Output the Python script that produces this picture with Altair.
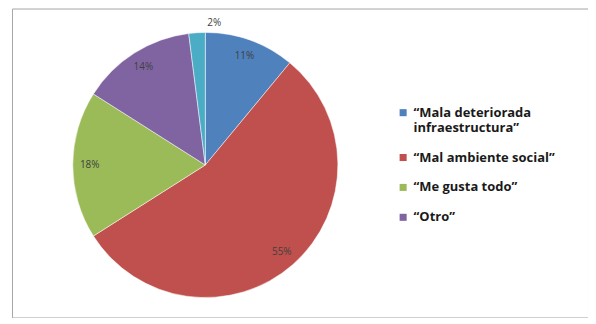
import altair as alt
import pandas as pd

categories = ["“Mala deteriorada infraestructura”", "“Mal ambiente social”",
              "“Me gusta todo”", "“Otro”", "Otros"]
values = [11, 55, 18, 14, 2]
labels = ["11%", "55%", "18%", "14%", "2%"]
colors = ["#4F81BD", "#C0504D", "#9BBB59", "#8064A2", "#4BACC6"]

df = pd.DataFrame({"cat": categories, "val": values, "lab": labels,
                   "ord": list(range(len(categories)))})

CX, CY, R = 194, 157, 133

color = alt.Color(
    "cat:N",
    scale=alt.Scale(domain=categories, range=colors),
    legend=alt.Legend(
        values=categories[:4], title=None, orient="none", legendX=386, legendY=98,
        symbolType="square", symbolSize=50, symbolStrokeWidth=0,
        labelFont="Open Sans", labelFontSize=13, labelFontWeight="bold",
        labelColor="#1a1a1a", labelLimit=300, rowPadding=16,
        labelExpr="datum.label == '“Mala deteriorada infraestructura”' ? ['“Mala deteriorada', 'infraestructura”'] : datum.label",
    ),
)

base = alt.Chart(df).encode(
    theta=alt.Theta("val:Q", stack=True),
    order=alt.Order("ord:Q"),
)

pie = base.mark_arc(outerRadius=R, stroke="white", strokeWidth=0.5).encode(
    color=color, x=alt.value(CX), y=alt.value(CY)
)

text = base.transform_calculate(
    rad="datum.val < 5 ? 143 : 116"
).mark_text(font="Open Sans", fontSize=10, color="#404040").encode(
    text="lab:N", radius=alt.Radius("rad:Q", scale=None),
    x=alt.value(CX), y=alt.value(CY)
)

chart = (pie + text).properties(
    width=578, height=310,
    autosize=alt.AutoSizeParams(type="none"),
    padding={"left": 4, "top": 0, "right": 0, "bottom": 0},
).configure_view(stroke="#a6a6a6", strokeWidth=1)

chart.save("out.html", embed_options={"renderer": "svg", "actions": False})
